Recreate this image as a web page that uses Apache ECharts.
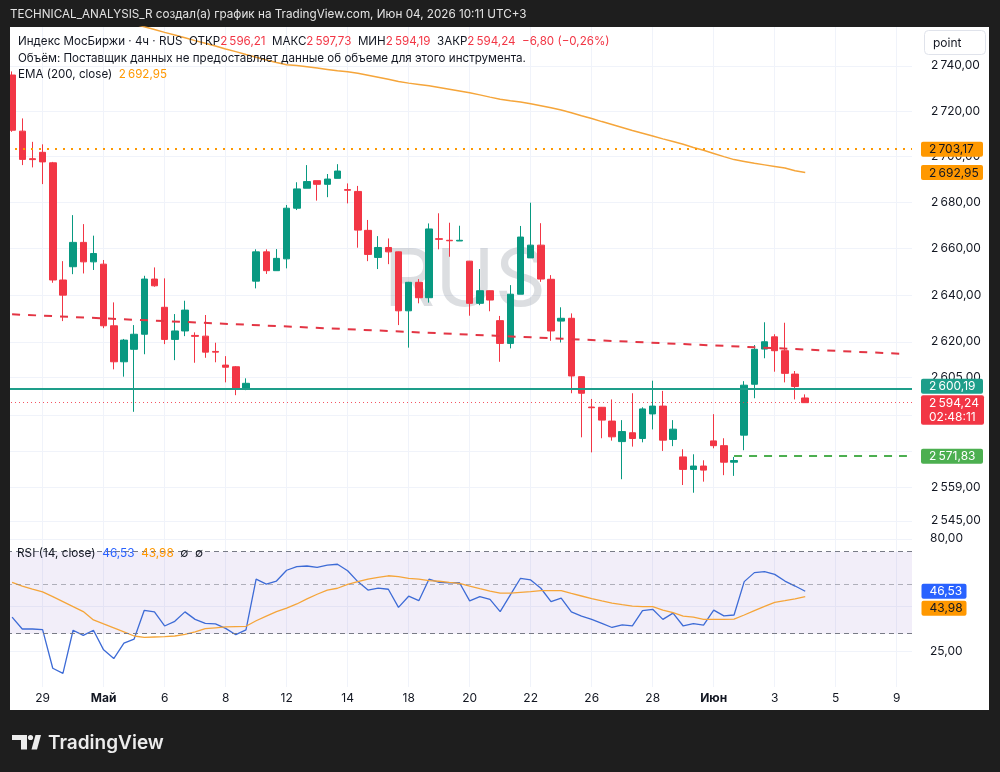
<!DOCTYPE html>
<html lang="ru">
<head>
<meta charset="utf-8">
<title>RUS 4ч</title>
<script src="https://cdn.jsdelivr.net/npm/echarts@6.0.0/dist/echarts.min.js"></script>
<style>
  html, body { margin: 0; padding: 0; background: #1e1e1e; }
  #chart { width: 1000px; height: 772px; }
</style>
</head>
<body>
<div id="chart"></div>
<script>
// 4ч свечи: [open, close, low, high]
const candles = [
  [2735.9, 2711.5, 2710.8, 2737.5], [2711.1, 2698.7, 2696.2, 2716.7], [2699.0, 2698.6, 2695.2, 2706.4],
  [2701.8, 2697.6, 2687.9, 2705.3], [2697.2, 2646.4, 2645.2, 2697.6], [2646.4, 2639.9, 2628.8, 2654.5],
  [2652.1, 2662.6, 2648.9, 2674.4], [2662.6, 2654.2, 2649.2, 2670.5], [2654.2, 2657.8, 2650.7, 2665.5],
  [2653.2, 2626.8, 2625.8, 2655.0], [2626.8, 2611.5, 2608.3, 2636.8], [2611.5, 2620.7, 2605.2, 2621.2],
  [2616.8, 2623.2, 2590.4, 2627.1], [2623.2, 2646.8, 2614.7, 2648.2], [2646.8, 2643.9, 2643.5, 2651.8],
  [2634.7, 2621.0, 2619.0, 2647.1], [2621.0, 2624.6, 2612.2, 2631.8], [2624.6, 2633.5, 2622.4, 2637.5],
  [2622.7, 2622.3, 2611.1, 2624.0], [2622.4, 2615.6, 2613.2, 2631.4], [2615.9, 2615.6, 2611.3, 2619.6],
  [2610.1, 2609.2, 2602.8, 2613.9], [2609.4, 2599.8, 2597.4, 2609.7], [2599.8, 2602.4, 2599.5, 2604.5],
  [2645.9, 2658.5, 2642.8, 2659.6], [2658.5, 2650.4, 2649.0, 2659.6], [2650.4, 2655.7, 2650.4, 2659.7],
  [2655.5, 2677.4, 2651.4, 2678.8], [2677.4, 2685.8, 2676.6, 2688.7], [2686.1, 2689.0, 2686.1, 2696.2],
  [2689.4, 2687.8, 2680.7, 2689.4], [2687.8, 2690.1, 2682.2, 2692.3], [2690.4, 2693.6, 2690.4, 2696.6],
  [2685.5, 2685.2, 2679.5, 2688.2], [2684.7, 2667.9, 2660.3, 2687.1], [2667.8, 2657.4, 2654.5, 2672.3],
  [2656.1, 2660.4, 2651.1, 2665.3], [2660.4, 2658.5, 2653.2, 2664.3], [2658.5, 2633.2, 2627.1, 2658.6],
  [2633.2, 2645.4, 2617.5, 2645.6], [2645.4, 2638.8, 2636.4, 2646.8], [2638.8, 2668.4, 2636.7, 2670.8],
  [2664.2, 2663.9, 2659.6, 2675.2], [2663.5, 2663.3, 2656.4, 2671.1], [2663.2, 2663.5, 2663.2, 2669.8],
  [2654.5, 2636.4, 2631.1, 2654.6], [2636.4, 2641.8, 2635.6, 2651.1], [2641.8, 2637.8, 2633.0, 2641.9],
  [2629.0, 2619.3, 2611.5, 2631.0], [2619.3, 2640.3, 2617.2, 2644.2], [2640.3, 2664.9, 2640.3, 2669.7],
  [2655.9, 2661.4, 2655.9, 2679.8], [2661.4, 2646.8, 2645.6, 2670.9], [2646.7, 2624.6, 2620.4, 2648.5],
  [2628.8, 2630.0, 2619.7, 2634.7], [2630.0, 2605.5, 2598.2, 2632.1], [2605.2, 2598.2, 2579.7, 2605.3],
  [2592.4, 2592.1, 2573.4, 2595.8], [2592.3, 2586.9, 2579.3, 2592.4], [2586.5, 2579.9, 2578.3, 2595.6],
  [2577.9, 2582.1, 2562.2, 2586.9], [2581.6, 2579.2, 2575.8, 2598.2], [2579.2, 2591.6, 2577.6, 2592.3],
  [2589.5, 2592.8, 2583.0, 2603.5], [2592.8, 2578.5, 2574.0, 2599.2], [2578.8, 2583.1, 2576.0, 2586.9],
  [2571.5, 2566.3, 2559.8, 2574.7], [2566.3, 2567.7, 2556.6, 2572.6], [2567.7, 2566.0, 2561.2, 2570.1],
  [2578.2, 2576.2, 2575.1, 2589.4], [2576.2, 2569.3, 2563.9, 2579.3], [2569.3, 2570.0, 2563.6, 2571.5],
  [2580.6, 2601.6, 2574.3, 2603.3], [2602.0, 2616.8, 2596.1, 2618.6], [2616.9, 2620.0, 2613.0, 2628.3],
  [2622.1, 2616.2, 2607.3, 2623.2], [2616.2, 2606.6, 2602.8, 2628.1], [2606.3, 2601.04, 2595.6, 2607.6],
  [2596.21, 2594.24, 2594.19, 2597.73]
];

// EMA(200, close), начало выше видимой области
const ema200 = [
  null, null, null, null, null, null, null, null, null, null, null,
  2759.8, 2758.6, 2757.4, 2756.2, 2754.9, 2753.7, 2752.5, 2751.2, 2750.0, 2748.8,
  2747.5, 2746.3, 2745.0, 2743.8, 2742.6, 2741.5, 2740.5, 2740.1, 2739.6, 2739.0,
  2738.4, 2737.8, 2737.3, 2736.7, 2735.8, 2734.9, 2734.0, 2733.0, 2732.3, 2731.7,
  2731.1, 2730.4, 2729.6, 2728.8, 2728.0, 2727.1, 2726.1, 2725.2, 2724.5, 2723.9,
  2723.2, 2722.3, 2721.4, 2720.4, 2719.2, 2717.9, 2716.7, 2715.3, 2714.0, 2712.7,
  2711.4, 2710.2, 2709.0, 2707.7, 2706.5, 2705.3, 2703.9, 2702.7, 2701.3, 2699.9,
  2698.6, 2697.8, 2697.0, 2696.3, 2695.6, 2694.9, 2693.7, 2692.95
];

const rsi14 = [
  35.6, 31.5, 31.5, 31.3, 21.0, 19.9, 31.1, 29.5, 31.1, 25.4,
  23.2, 27.2, 28.4, 38.2, 37.6, 32.5, 34.1, 37.6, 34.8, 33.4,
  33.2, 31.7, 29.7, 31.2, 52.7, 50.1, 51.7, 57.8, 60.0, 60.4,
  59.6, 61.0, 61.5, 57.5, 51.4, 47.1, 48.1, 47.5, 39.4, 44.2,
  42.2, 52.7, 51.0, 50.8, 50.8, 42.1, 44.0, 42.8, 37.7, 44.8,
  53.2, 52.3, 48.0, 41.8, 43.3, 37.6, 36.0, 34.8, 33.4, 32.0,
  32.9, 32.5, 38.1, 38.6, 34.8, 37.1, 32.5, 33.3, 32.8, 38.3,
  36.1, 36.4, 51.4, 56.4, 57.0, 55.4, 51.7, 49.1, 46.53
];

const rsiMa = [
  51.0, 49.1, 47.6, 46.2, 44.0, 41.8, 39.7, 37.7, 34.6, 33.2,
  31.9, 30.6, 29.3, 28.9, 29.0, 29.1, 29.3, 29.8, 30.6, 31.6,
  31.9, 32.2, 32.3, 32.4, 34.3, 36.0, 37.7, 39.1, 40.8, 43.0,
  45.1, 47.1, 48.0, 50.0, 51.4, 52.7, 53.7, 54.6, 54.1, 53.2,
  52.7, 51.9, 51.6, 51.0, 50.5, 49.1, 47.8, 46.6, 45.6, 45.6,
  46.0, 46.3, 46.8, 46.8, 46.8, 45.5, 44.3, 43.1, 42.1, 41.2,
  40.5, 39.9, 39.7, 39.7, 38.3, 37.3, 36.0, 35.6, 34.8, 34.8,
  34.8, 34.9, 36.4, 38.1, 39.8, 41.5, 42.2, 43.0, 43.98
];

const tickLabels = ['29', 'Май', '6', '8', '12', '14', '18', '20', '22', '26', '28', 'Июн', '3', '5', '9'];
const monthLabels = ['Май', 'Июн'];
const priceLabels = [2545, 2559, 2605, 2620, 2640, 2660, 2680, 2700, 2720, 2740];
const priceGrid = [2545, 2559, 2574, 2589, 2605, 2620, 2640, 2660, 2680, 2700, 2720, 2740];
const rsiLabels = [25, 80];
const rsiGrid = [25, 40, 80];
const rsiBands = [70, 50, 30];

const resistance = 2703.17;
const support = 2600.19;
const target = 2571.83;
const targetFrom = 71;
const trendStart = [0, 2631.7];
const trendEnd = [88, 2614.8];

const SLOTS = 89, FIRST_TICK = 3, TICK_STEP = 6;
const FONT = 'Inter, "Noto Sans", sans-serif';
const UP = '#089981', DOWN = '#F23645', ORANGE = '#FF9800', TEAL = '#1E9E8A', GREEN = '#4CAF50', BLUE = '#2962FF';
const INK = '#131722';

const cats = Array.from({ length: SLOTS }, (_, i) => String(i));
const isTick = i => i >= FIRST_TICK && (i - FIRST_TICK) % TICK_STEP === 0;

function fmt(v) {
  const parts = Number(v).toFixed(2).split('.');
  return parts[0].replace(/\B(?=(\d{3})+(?!\d))/g, '\u2009') + ',' + parts[1];
}

const last = candles[candles.length - 1];
const prevClose = candles[candles.length - 2][1];
const change = last[1] - prevClose;
const changePct = change / prevClose * 100;
const sgn = x => (x < 0 ? '\u2212' : '+') + Math.abs(x).toFixed(2).replace('.', ',');
const emaLast = ema200[ema200.length - 1];
const rsiLast = rsi14[rsi14.length - 1];
const rsiMaLast = rsiMa[rsiMa.length - 1];

const chart = echarts.init(document.getElementById('chart'));

const xBase = {
  type: 'category',
  data: cats,
  boundaryGap: true,
  axisLine: { show: false },
  axisTick: { show: false },
  splitLine: {
    show: true,
    interval: (i) => isTick(i),
    alignWithLabel: true,
    lineStyle: { color: '#f0f3fa', width: 1 }
  }
};

const option = {
  animation: false,
  backgroundColor: '#1e1e1e',
  textStyle: { fontFamily: FONT },
  grid: [
    { left: 7, top: 27, width: 905, height: 510 },
    { left: 7, top: 537, width: 905, height: 150 }
  ],
  xAxis: [
    Object.assign({}, xBase, { gridIndex: 0, axisLabel: { show: false } }),
    Object.assign({}, xBase, {
      gridIndex: 1,
      axisLabel: {
        show: true,
        interval: (i) => isTick(i),
        margin: 5,
        fontSize: 12,
        color: INK,
        fontFamily: FONT,
        formatter: (value) => {
          const t = tickLabels[(Number(value) - FIRST_TICK) / TICK_STEP];
          return monthLabels.includes(t) ? '{m|' + t + '}' : t;
        },
        rich: { m: { fontWeight: 'bold', fontSize: 12, color: INK, fontFamily: FONT } }
      }
    })
  ],
  yAxis: [
    {
      type: 'log', gridIndex: 0, position: 'right',
      min: 2538.3, max: 2757.3,
      axisLine: { show: false },
      axisTick: { show: false, customValues: priceGrid },
      axisLabel: { customValues: priceLabels, formatter: fmt, margin: 19, fontSize: 12, color: INK, fontFamily: FONT },
      splitLine: { show: true, lineStyle: { color: '#f0f3fa' } }
    },
    {
      type: 'log', gridIndex: 1, position: 'right',
      min: 17.3, max: 81.5,
      axisLine: { show: false },
      axisTick: { show: false, customValues: rsiGrid },
      axisLabel: { customValues: rsiLabels, formatter: fmt, margin: 18, fontSize: 12, color: INK, fontFamily: FONT },
      splitLine: { show: true, lineStyle: { color: '#f0f3fa' } }
    }
  ],
  series: [
    {
      name: 'RUS', type: 'candlestick', xAxisIndex: 0, yAxisIndex: 0,
      data: candles, barWidth: 7,
      itemStyle: { color: UP, color0: DOWN, borderColor: UP, borderColor0: DOWN, borderWidth: 1 },
      markLine: {
        silent: true, symbol: 'none', animation: false,
        label: { show: false },
        data: [
          { yAxis: resistance, lineStyle: { color: ORANGE, type: [2, 6], width: 2 } },
          { yAxis: support, lineStyle: { color: TEAL, type: 'solid', width: 2 } },
          { yAxis: last[1], lineStyle: { color: DOWN, type: [1, 3], width: 1, opacity: 0.85 } },
          [
            { coord: [String(targetFrom), target], lineStyle: { color: GREEN, type: [8, 7], width: 2 } },
            { coord: [String(SLOTS - 1), target] }
          ],
          [
            { coord: [String(trendStart[0]), trendStart[1]], lineStyle: { color: '#E33544', type: [8, 8], width: 2 } },
            { coord: [String(trendEnd[0]), trendEnd[1]] }
          ]
        ]
      }
    },
    {
      name: 'EMA', type: 'line', xAxisIndex: 0, yAxisIndex: 0,
      data: ema200, symbol: 'none', silent: true,
      lineStyle: { color: '#F5A53A', width: 1.5 }
    },
    {
      name: 'RSI', type: 'line', xAxisIndex: 1, yAxisIndex: 1,
      data: rsi14, symbol: 'none', silent: true,
      lineStyle: { color: '#3D6BD6', width: 1.3 },
      markArea: {
        silent: true,
        itemStyle: { color: 'rgba(126,87,194,0.1)' },
        data: [[{ yAxis: rsiBands[0] }, { yAxis: rsiBands[2] }]]
      },
      markLine: {
        silent: true, symbol: 'none', label: { show: false },
        data: rsiBands.map(v => ({ yAxis: v, lineStyle: { color: '#787b86', type: [5, 4], width: 1, opacity: v === 50 ? 0.55 : 1 } }))
      }
    },
    {
      name: 'RSI MA', type: 'line', xAxisIndex: 1, yAxisIndex: 1,
      data: rsiMa, symbol: 'none', silent: true,
      lineStyle: { color: '#F5A53A', width: 1.3 }
    }
  ]
};

chart.setOption(option);

// подписи на шкале: позиции берутся из осей
const py = v => chart.convertToPixel({ yAxisIndex: 0 }, v);
const ry = v => chart.convertToPixel({ yAxisIndex: 1 }, v);

function box(y, text, bg, fg, x, w) {
  return [
    { type: 'rect', z: 60, shape: { x: x, y: y - 7.5, width: w, height: 15, r: 2 }, style: { fill: bg } },
    { type: 'text', z: 61, x: x + 8, y: y + 0.5, style: { text: text, fill: fg, font: '12px ' + FONT, align: 'left', verticalAlign: 'middle' } }
  ];
}

const LEG = 11.6;
const yLast = py(last[1]);
const graphics = [
  { type: 'rect', z: -10, shape: { x: 10, y: 27, width: 979, height: 683 }, style: { fill: '#ffffff' } },
  { type: 'rect', z: 100, shape: { x: 0, y: 27, width: 10, height: 683 }, style: { fill: '#1e1e1e' } },
  { type: 'text', z: 1, x: 465, y: 282, style: { text: 'RUS', fill: 'rgba(150,154,165,0.33)', font: '80px ' + FONT, align: 'center', verticalAlign: 'middle' } },
  { type: 'text', z: 10, x: 10, y: 14, style: { text: 'TECHNICAL_ANALYSIS_R создал(а) график на TradingView.com, Июн 04, 2026 10:11 UTC+3', fill: '#e3e3e3', font: '11.7px ' + FONT, align: 'left', verticalAlign: 'middle' } },
  {
    type: 'text', z: 10, x: 18, y: 42,
    style: {
      text: '{k|Индекс МосБиржи · 4ч · RUS  ОТКР}{v|' + fmt(last[0]) + '}{k|  МАКС}{v|' + fmt(last[3]) + '}{k|  МИН}{v|' + fmt(last[2]) +
        '}{k|  ЗАКР}{v|' + fmt(last[1]) + '}{v|  ' + sgn(change) + ' (' + sgn(changePct) + '%)}',
      align: 'left', verticalAlign: 'middle',
      rich: { k: { fill: INK, fontSize: LEG, fontFamily: FONT }, v: { fill: DOWN, fontSize: LEG, fontFamily: FONT } }
    }
  },
  { type: 'text', z: 10, x: 18, y: 59, style: { text: 'Объём: Поставщик данных не предоставляет данные об объеме для этого инструмента.', fill: INK, font: LEG + 'px ' + FONT, align: 'left', verticalAlign: 'middle' } },
  {
    type: 'text', z: 10, x: 18, y: 75,
    style: {
      text: '{k|EMA (200, close)  }{v|' + fmt(emaLast) + '}', align: 'left', verticalAlign: 'middle',
      rich: { k: { fill: INK, fontSize: LEG, fontFamily: FONT }, v: { fill: ORANGE, fontSize: LEG, fontFamily: FONT } }
    }
  },
  {
    type: 'text', z: 10, x: 17, y: 553,
    style: {
      text: '{k|RSI (14, close)  }{b|' + fmt(rsiLast) + '}{o|  ' + fmt(rsiMaLast) + '}{k|  \u2205  \u2205}', align: 'left', verticalAlign: 'middle',
      rich: { k: { fill: INK, fontSize: 11.8, fontFamily: FONT }, b: { fill: BLUE, fontSize: 11.8, fontFamily: FONT }, o: { fill: ORANGE, fontSize: 11.8, fontFamily: FONT } }
    }
  },
  { type: 'rect', z: 10, shape: { x: 924.5, y: 30.5, width: 61, height: 24, r: 4 }, style: { fill: '#ffffff', stroke: '#e0e3eb', lineWidth: 1 } },
  { type: 'text', z: 11, x: 933, y: 43, style: { text: 'point', fill: INK, font: '12px ' + FONT, align: 'left', verticalAlign: 'middle' } },
  // логотип
  { type: 'rect', z: 10, shape: { x: 12, y: 735, width: 15, height: 5 }, style: { fill: '#ececec' } },
  { type: 'rect', z: 10, shape: { x: 21, y: 735, width: 6, height: 14.5 }, style: { fill: '#ececec' } },
  { type: 'circle', z: 10, shape: { cx: 30.5, cy: 737.5, r: 2.6 }, style: { fill: '#ececec' } },
  { type: 'polygon', z: 10, shape: { points: [[35.5, 735], [41, 735], [37, 749.5], [31.5, 749.5]] }, style: { fill: '#ececec' } },
  { type: 'text', z: 10, x: 48, y: 743, style: { text: 'TradingView', fill: '#ececec', font: '600 19px ' + FONT, align: 'left', verticalAlign: 'middle' } }
].concat(
  box(py(resistance), fmt(resistance), ORANGE, INK, 921, 62),
  box(py(emaLast), fmt(emaLast), ORANGE, INK, 921, 62),
  box(py(support) - 2.3, fmt(support), TEAL, '#ffffff', 921, 62),
  [
    { type: 'rect', z: 60, shape: { x: 921, y: yLast - 7.5, width: 63, height: 29.5, r: 2 }, style: { fill: DOWN } },
    { type: 'text', z: 61, x: 929, y: yLast + 0.5, style: { text: fmt(last[1]), fill: '#ffffff', font: '12px ' + FONT, align: 'left', verticalAlign: 'middle' } },
    { type: 'text', z: 61, x: 929, y: yLast + 14.5, style: { text: '02:48:11', fill: '#ffffff', font: '12px ' + FONT, align: 'left', verticalAlign: 'middle' } }
  ],
  box(py(target), fmt(target), GREEN, '#ffffff', 921, 62),
  box(ry(rsiLast), fmt(rsiLast), BLUE, '#ffffff', 921.5, 45),
  box(ry(rsiMaLast) + 11.6, fmt(rsiMaLast), ORANGE, INK, 921.5, 45)
);

chart.setOption({ graphic: graphics });

window.addEventListener('resize', function () {
  chart.resize();
});
</script>
</body>
</html>
